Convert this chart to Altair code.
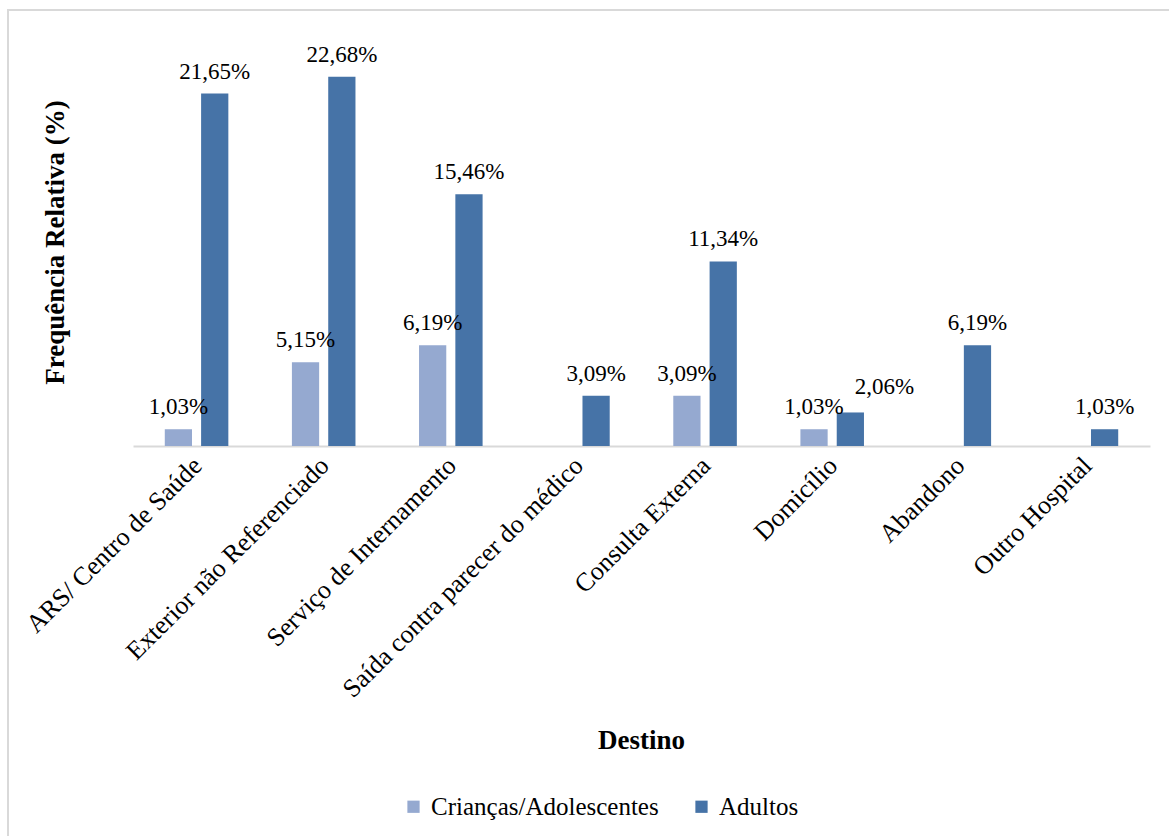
import altair as alt
import pandas as pd

# Destinations and relative frequencies (%) per group
destinos = [
    "ARS/ Centro de Saúde",
    "Exterior não Referenciado",
    "Serviço de Internamento",
    "Saída contra parecer do médico",
    "Consulta Externa",
    "Domicílio",
    "Abandono",
    "Outro Hospital",
]
series = ["Crianças/Adolescentes", "Adultos"]
criancas = [1.03, 5.15, 6.19, None, 3.09, 1.03, None, None]
adultos = [21.65, 22.68, 15.46, 3.09, 11.34, 2.06, 6.19, 1.03]

rows = []
for d, c, a in zip(destinos, criancas, adultos):
    if c is not None:
        rows.append({"Destino": d, "Grupo": series[0], "Valor": c})
    if a is not None:
        rows.append({"Destino": d, "Grupo": series[1], "Valor": a})
df = pd.DataFrame(rows)

LIGHT = "#95a9d0"
DARK = "#4673a7"
SERIF = "Liberation Serif"

x_enc = alt.X(
    "Destino:N",
    sort=destinos,
    scale=alt.Scale(paddingInner=0.5, paddingOuter=0.25),
    axis=alt.Axis(
        title="Destino",
        labelAngle=-45,
        labelFont=SERIF,
        labelFontSize=26,
        labelColor="#000000",
        labelPadding=6,
        labelOffset=-8,
        labelLimit=0,
        ticks=False,
        domainColor="#d9d9d9",
        domainWidth=2,
        titleFont=SERIF,
        titleFontSize=27,
        titleFontWeight="bold",
        titleColor="#000000",
        titleX=508,
        titleY=294,
        titleBaseline="middle",
    ),
)
xoff_enc = alt.XOffset(
    "Grupo:N", sort=series, scale=alt.Scale(paddingInner=0.25, paddingOuter=0)
)
y_enc = alt.Y(
    "Valor:Q",
    scale=alt.Scale(domain=[0, 25], nice=False),
    axis=alt.Axis(
        title="Frequência Relativa (%)",
        labels=False,
        ticks=False,
        domain=False,
        grid=False,
        titleFont=SERIF,
        titleFontSize=27,
        titleFontWeight="bold",
        titleColor="#000000",
        titleX=-78,
        titleY=203,
        titleAngle=270,
        titleAlign="center",
        titleBaseline="middle",
    ),
)

base = alt.Chart(df).transform_calculate(
    rotulo="replace(format(datum.Valor, '.2f'), '.', ',') + '%'"
)

bars = base.mark_bar().encode(
    x=x_enc,
    xOffset=xoff_enc,
    y=y_enc,
    color=alt.Color(
        "Grupo:N",
        sort=series,
        scale=alt.Scale(domain=series, range=[LIGHT, DARK]),
        legend=alt.Legend(
            title=None,
            orient="none",
            direction="horizontal",
            legendX=268,
            legendY=755,
            symbolType="square",
            symbolSize=150,
            symbolStrokeWidth=0,
            labelFont=SERIF,
            labelFontSize=25,
            labelColor="#000000",
            labelOffset=5,
            labelLimit=0,
            columnPadding=30,
        ),
    ),
)

text_style = dict(
    font=SERIF,
    fontSize=23,
    color="#000000",
    align="center",
    baseline="alphabetic",
)

is_shifted = "datum.Destino == 'Domicílio' && datum.Grupo == 'Adultos'"

labels = base.transform_filter(f"!({is_shifted})").mark_text(dy=-15, **text_style).encode(
    x=alt.X("Destino:N", sort=destinos),
    xOffset=alt.XOffset("Grupo:N", sort=series),
    y="Valor:Q",
    text="rotulo:N",
)

labels_shifted = base.transform_filter(is_shifted).mark_text(dy=-18, dx=34, **text_style).encode(
    x=alt.X("Destino:N", sort=destinos),
    xOffset=alt.XOffset("Grupo:N", sort=series),
    y="Valor:Q",
    text="rotulo:N",
)

# Thin frame around the whole figure
frame = alt.Chart(alt.Data(values=[{"f": 1}])).mark_rect(
    fill=None, stroke="#d9d9d9", strokeWidth=2
).encode(
    x=alt.value(-125),
    x2=alt.value(1060),
    y=alt.value(-29),
    y2=alt.value(820),
)

chart = (
    alt.layer(frame, bars, labels, labels_shifted)
    .properties(
        width=1017,
        height=407,
        padding={"left": 133, "top": 39, "right": 19, "bottom": 390},
        autosize=alt.AutoSizeParams(type="none"),
        background="#ffffff",
    )
    .configure(font=SERIF)
    .configure_text(font=SERIF)
    .configure_legend(labelFont=SERIF)
    .configure_view(stroke=None)
)

chart.save("out.html", embed_options={"renderer": "svg", "actions": False})
